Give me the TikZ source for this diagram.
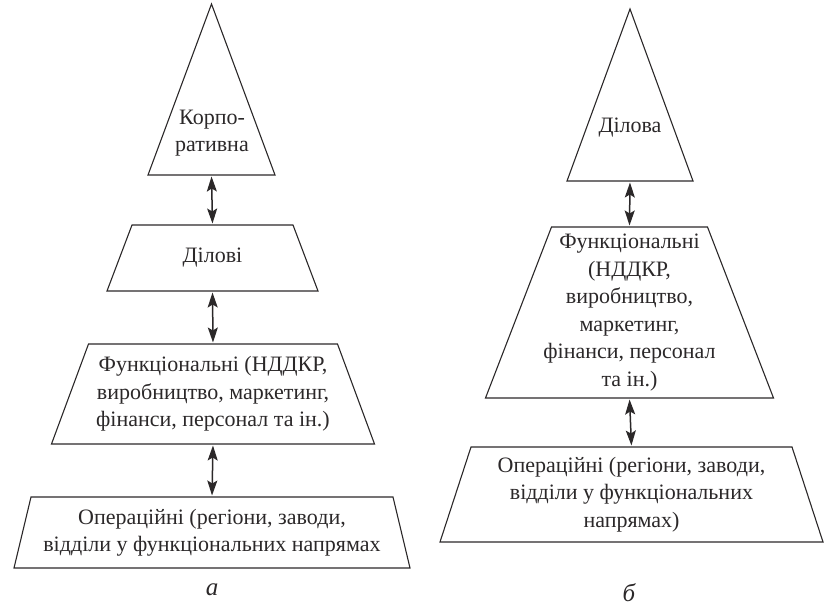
\documentclass[tikz,border=0pt]{standalone}
\usepackage{fontspec}
\setmainfont{Liberation Serif}
\usetikzlibrary{calc,arrows.meta}

\definecolor{ink}{HTML}{2B2829}

\tikzset{
  level/.style={inner sep=0pt, outer sep=0pt, align=center, text=ink,
    font=\fontsize{22}{27.5}\selectfont},
  outline/.style={draw=ink, line width=1.1pt},
  link/.style={draw=ink, line width=1.5pt, shorten <=1.5pt, shorten >=1.5pt,
    {Stealth[length=15pt,width=10pt,inset=3pt]}-{Stealth[length=15pt,width=10pt,inset=3pt]}},
  caption/.style={inner sep=0pt, text=ink, font=\fontsize{25}{28}\selectfont\itshape},
}

% outline of a level box: triangle or trapezium cut from its bounding node
\newcommand{\triline}[1]{\draw[outline] (#1.south west) -- (#1.north) -- (#1.south east) -- cycle;}
\newcommand{\trapline}[2]{\draw[outline] (#1.south west) -- ($(#1.north west)+(#2,0)$)
  -- ($(#1.north east)+(-#2,0)$) -- (#1.south east) -- cycle;}

\begin{document}
\begin{tikzpicture}[x=1pt, y=-1pt]
\useasboundingbox (0,0) rectangle (824,613);

% (a) four levels
\node[level, minimum width=127pt, minimum height=171pt] (corp) at (211.5,89.5) {};
\node[level] (corpText) at (212,133) {Корпо-\\ративна};
\node[level, minimum width=211pt, minimum height=66pt] (bizA) at (212.5,258) {Ділові};
\node[level, minimum width=323pt, minimum height=100pt] (funcA) at (213,394)
  {Функціональні (НДДКР,\\виробництво, маркетинг,\\фінанси, персонал та ін.)};
\node[level, minimum width=396pt, minimum height=71pt] (operA) at (212,532.5)
  {Операційні (регіони, заводи,\\відділи у функціональних напрямах};
\node[caption] (capA) at (212,590) {а};

\triline{corp}
\trapline{bizA}{25}
\trapline{funcA}{37}
\trapline{operA}{17}

\draw[link] (corp.south) -- (bizA.north);
\draw[link] (bizA.south) -- (funcA.north);
\draw[link] (funcA.south) -- (operA.north);

% (b) three levels
\node[level, minimum width=126pt, minimum height=172pt] (biz) at (630,95) {};
\node[level] (bizText) at (630,128) {Ділова};
\node[level, minimum width=288pt, minimum height=171pt] (funcB) at (629.5,312.5)
  {Функціональні\\(НДДКР,\\виробництво,\\маркетинг,\\фінанси, персонал\\та ін.)};
\node[level, minimum width=383pt, minimum height=95pt] (operB) at (631.5,494.5)
  {Операційні (регіони, заводи,\\відділи у функціональних\\напрямах)};
\node[caption] (capB) at (629,593) {б};

\triline{biz}
\trapline{funcB}{66}
\trapline{operB}{31}

\draw[link] (biz.south) -- (funcB.north);
\draw[link] (funcB.south) -- (operB.north);
\end{tikzpicture}
\end{document}
